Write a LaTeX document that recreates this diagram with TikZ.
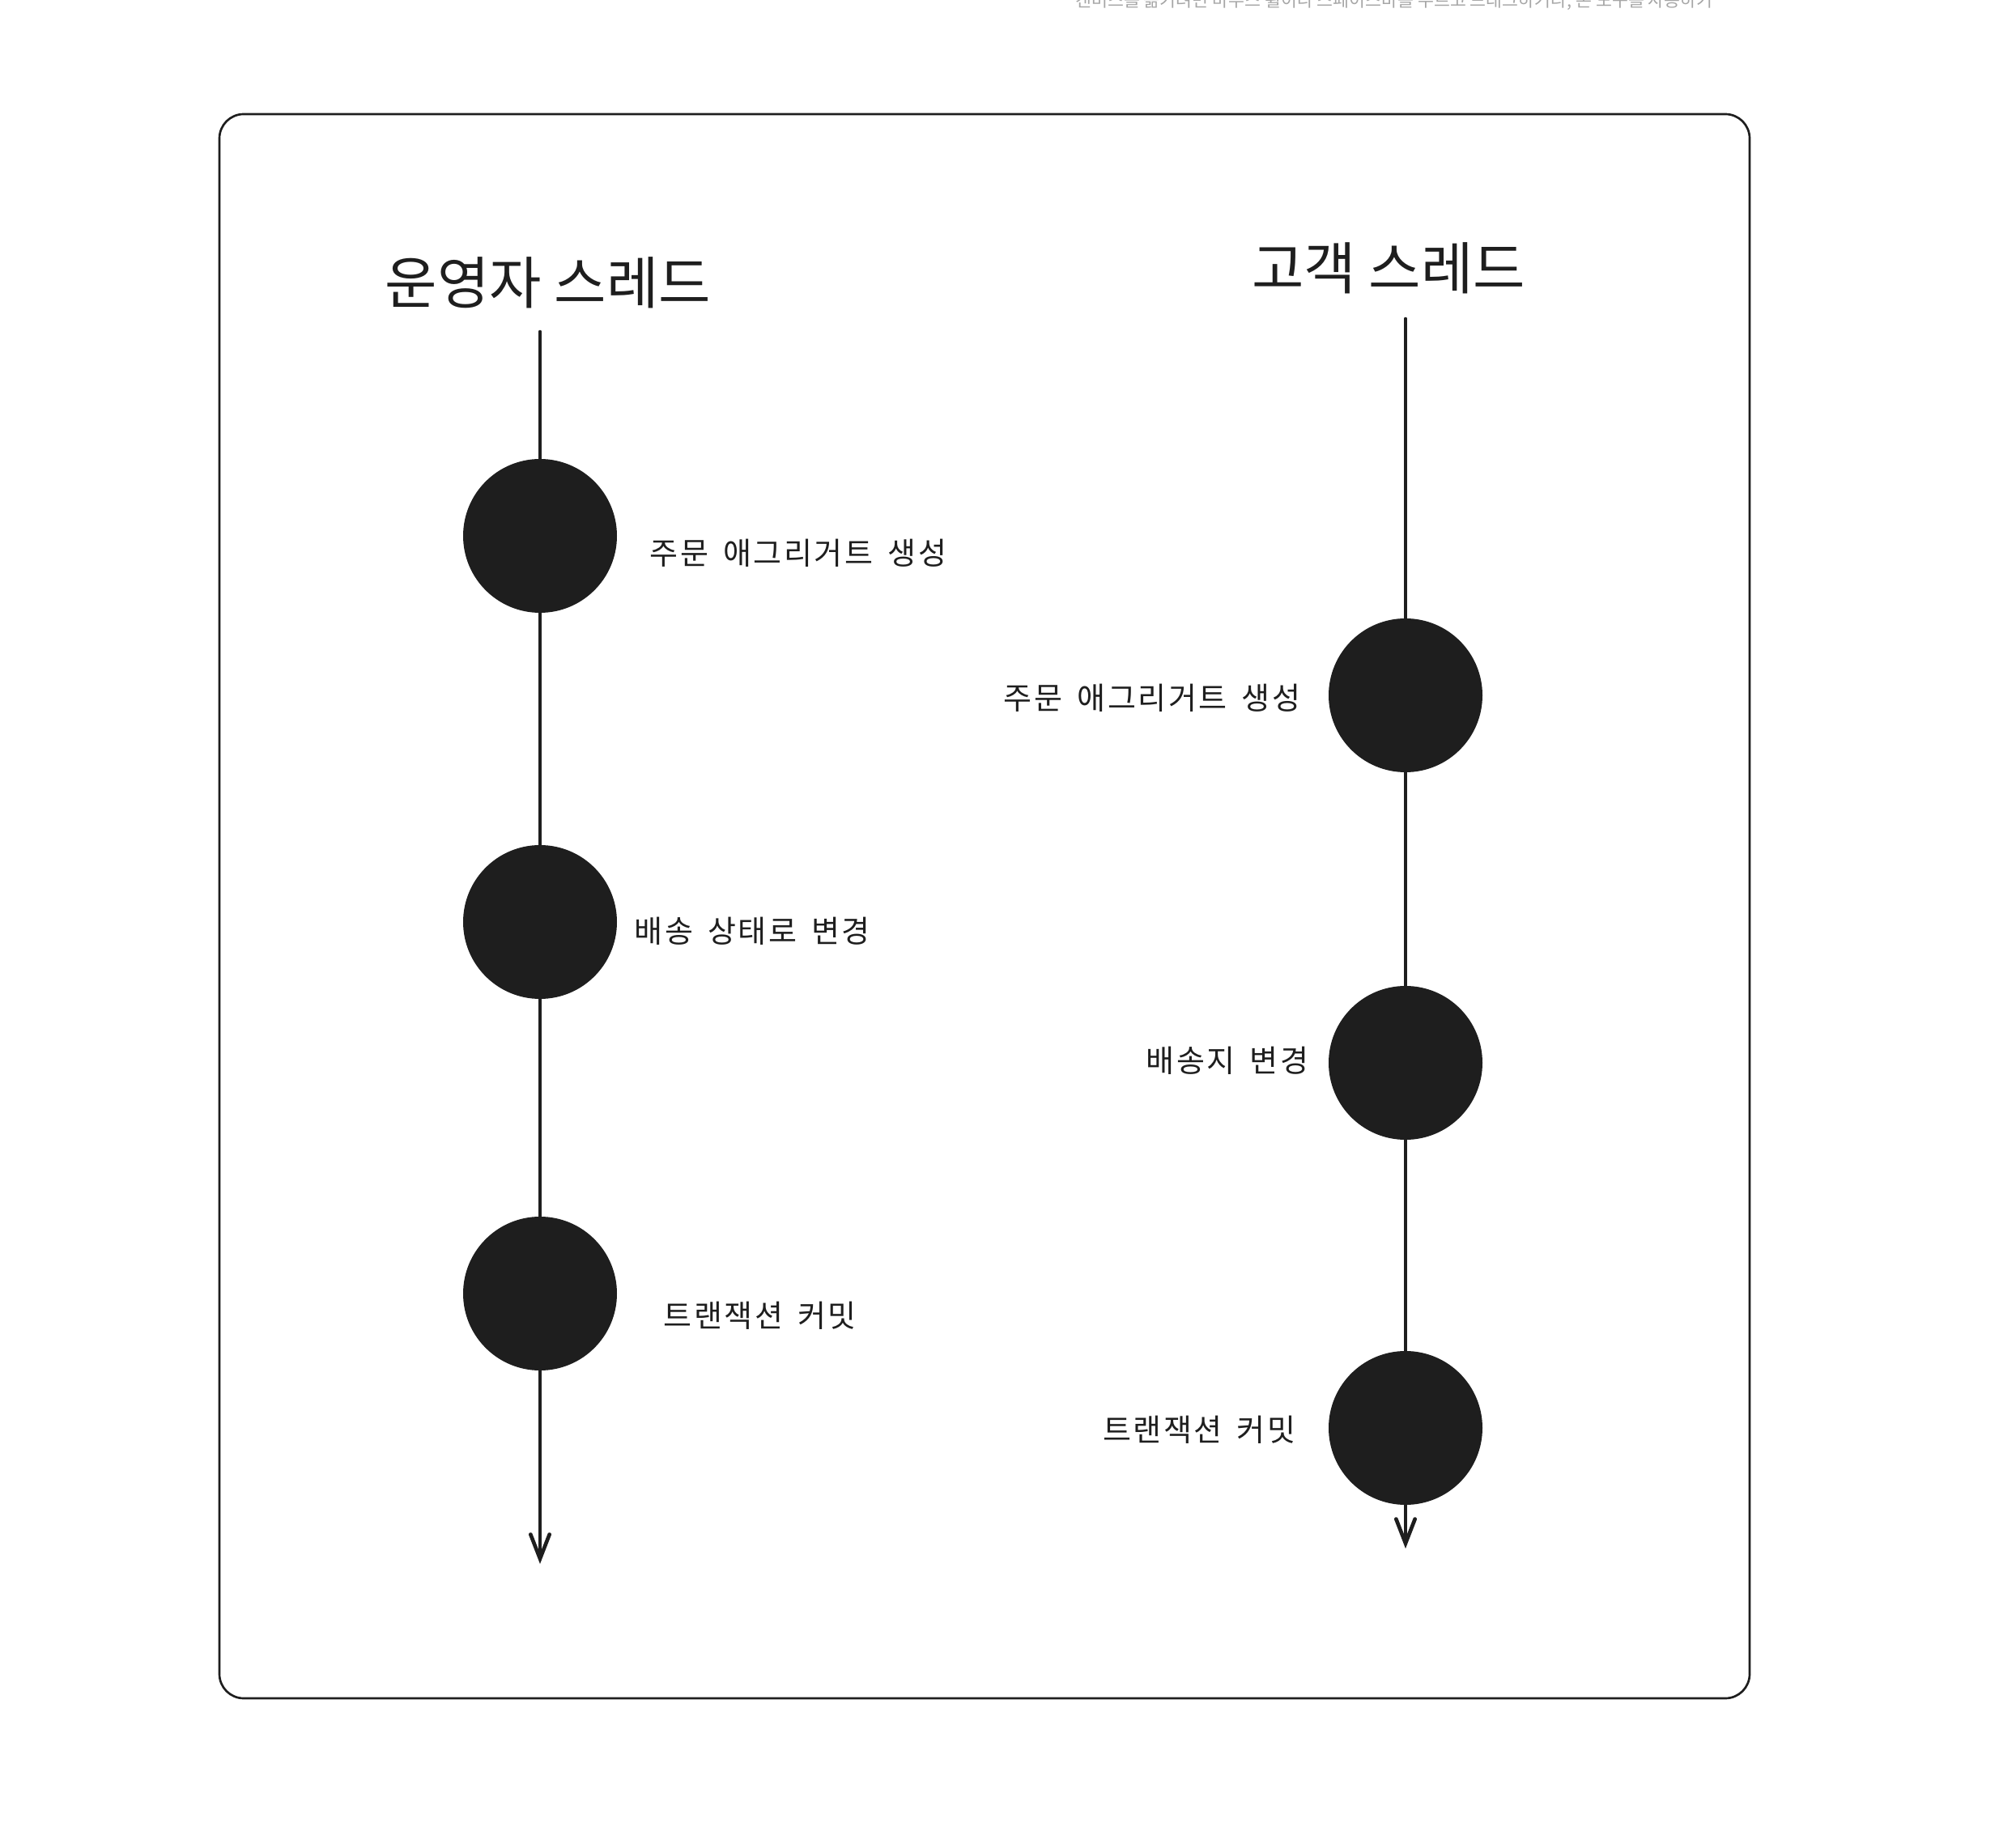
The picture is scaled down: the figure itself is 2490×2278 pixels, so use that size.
\documentclass[tikz,border=0pt]{standalone}
\usepackage{fontspec}
\newfontfamily\kofont{Noto Sans CJK KR}
\newfontfamily\kolabel[LetterSpace=7,WordSpace=1.6]{Noto Sans CJK KR}
\usetikzlibrary{arrows.meta}
\definecolor{ink}{HTML}{1E1E1E}

\begin{document}
\begin{tikzpicture}[x=0.3pt,y=-0.3pt,
	thread/.style={draw=ink, line width=1.4pt, line cap=round},
	event/.style={circle, fill=ink, minimum size=57pt, inner sep=0pt},
	evlabel/.style={font=\kolabel\fontsize{11.4pt}{13pt}\selectfont, text=ink, inner sep=0pt},
	title/.style={font=\kofont\fontsize{21pt}{25pt}\selectfont, text=ink, inner sep=0pt}]
\useasboundingbox (0,0) rectangle (2490,2278);
\clip (0,0) rectangle (2490,2278);
\node[font=\kofont\fontsize{6.5pt}{7pt}\selectfont, text=black!35, inner sep=0pt] (hint) at (1722,1) {캔버스를 옮기려면 마우스 휠이나 스페이스바를 누르고 드래그하거나, 손 도구를 사용하기};
\draw[ink, line width=0.8pt, rounded corners=9pt] (271,141) rectangle (2161,2098);

% operator thread
\node[title] (optitle) at (677,349) {운영자 스레드};
\coordinate (optop) at (667,410);
\coordinate (opend) at (667,1932);
\node[event] (op1) at (667,662) {};
\node[event] (op2) at (667,1139) {};
\node[event] (op3) at (667,1598) {};
\draw[thread] (optop) -- (op1);
\draw[thread] (op1) -- (op2);
\draw[thread] (op2) -- (op3);
\draw[thread, -{Straight Barb[length=9pt, width=7pt, line cap=round]}] (op3) -- (opend);
\node[evlabel, anchor=west] (oplabel1) at (802,683) {주문 애그리거트 생성};
\node[evlabel, anchor=west] (oplabel2) at (783,1150) {배송 상태로 변경};
\node[evlabel, anchor=west] (oplabel3) at (819,1625) {트랜잭션 커밋};

% customer thread
\node[title] (cutitle) at (1715,331) {고객 스레드};
\coordinate (cutop) at (1736,394);
\coordinate (cuend) at (1736,1913);
\node[event] (cu1) at (1736,859) {};
\node[event] (cu2) at (1736,1313) {};
\node[event] (cu3) at (1736,1764) {};
\draw[thread] (cutop) -- (cu1);
\draw[thread] (cu1) -- (cu2);
\draw[thread] (cu2) -- (cu3);
\draw[thread, -{Straight Barb[length=9pt, width=7pt, line cap=round]}] (cu3) -- (cuend);
\node[evlabel, anchor=east] (culabel1) at (1607,862) {주문 애그리거트 생성};
\node[evlabel, anchor=east] (culabel2) at (1617,1310) {배송지 변경};
\node[evlabel, anchor=east] (culabel3) at (1601,1766) {트랜잭션 커밋};
\end{tikzpicture}
\end{document}
